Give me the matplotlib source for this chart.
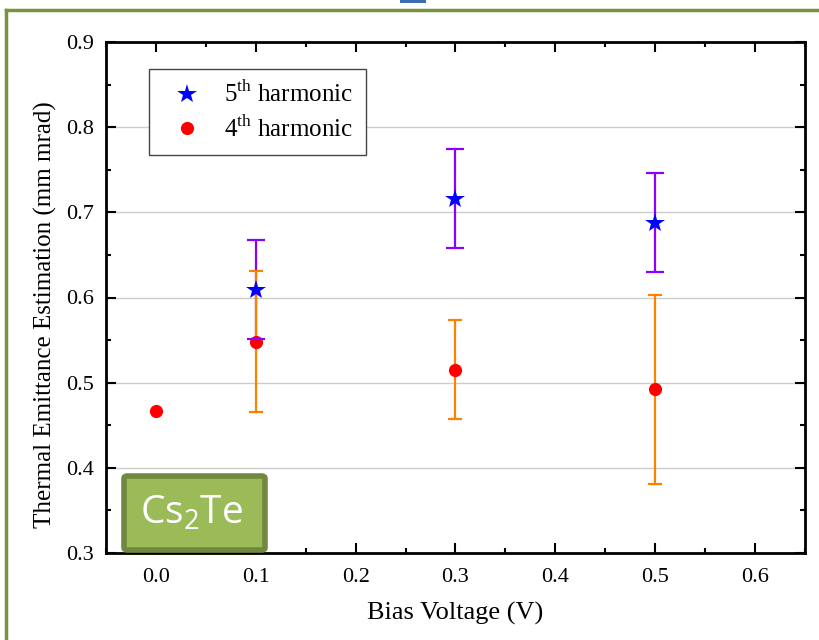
import matplotlib
matplotlib.use("Agg")
import matplotlib.pyplot as plt
from matplotlib.patches import FancyBboxPatch, Rectangle
from matplotlib.lines import Line2D
from matplotlib.ticker import MultipleLocator

# Data
bias_5th = [0.1, 0.3, 0.5]
emit_5th = [0.609, 0.716, 0.688]
err_5th = [0.058, 0.058, 0.058]

bias_4th = [0.0, 0.1, 0.3, 0.5]
emit_4th = [0.467, 0.548, 0.515, 0.492]
err_4th = [0.0, 0.083, 0.058, 0.111]

x_ticks = [0.0, 0.1, 0.2, 0.3, 0.4, 0.5, 0.6]
y_ticks = [0.3, 0.4, 0.5, 0.6, 0.7, 0.8, 0.9]

serif = ["Liberation Serif", "DejaVu Serif"]

fig = plt.figure(figsize=(8.19, 6.4), dpi=100)
ax = fig.add_axes([106 / 819, 1 - 553 / 640, 699 / 819, 511 / 640])

# Error bars
eb5 = ax.errorbar(bias_5th, emit_5th, yerr=err_5th, fmt="none", ecolor="#8B00FF",
                  elinewidth=1.6, capsize=6.5, capthick=1.6, zorder=3)
e4x = [b for b, e in zip(bias_4th, err_4th) if e > 0]
e4y = [v for v, e in zip(emit_4th, err_4th) if e > 0]
e4e = [e for e in err_4th if e > 0]
eb4 = ax.errorbar(e4x, e4y, yerr=e4e, fmt="none", ecolor="#FF8000",
                  elinewidth=1.6, capsize=5, capthick=1.6, zorder=4)
for cap in eb5[1]:
    cap.set_zorder(6)

ax.plot(bias_4th, emit_4th, "o", color="#FF0000", markersize=9.5, zorder=5,
        markeredgewidth=0)
ax.plot(bias_5th, emit_5th, "*", color="#0000FF", markersize=15, zorder=7,
        markeredgewidth=0)

ax.set_xlim(-0.05, 0.65)
ax.set_ylim(0.3, 0.9)
ax.set_xticks(x_ticks)
ax.set_yticks(y_ticks)
ax.set_xticklabels([f"{t:.1f}" for t in x_ticks], fontfamily=serif, fontsize=16)
ax.set_yticklabels([f"{t:.1f}" for t in y_ticks], fontfamily=serif, fontsize=16)
ax.xaxis.set_minor_locator(MultipleLocator(0.05))
ax.yaxis.set_minor_locator(MultipleLocator(0.05))
ax.tick_params(which="both", direction="in", top=True, right=True, width=1.5,
               color="black")
ax.tick_params(which="major", length=7.2)
ax.tick_params(axis="x", which="major", pad=11)
ax.tick_params(axis="y", which="major", pad=9)
ax.tick_params(which="minor", length=3.6)
for s in ax.spines.values():
    s.set_linewidth(2)

ax.grid(axis="y", which="major", color="#CCCCCC", linewidth=1, zorder=0)
ax.set_axisbelow(True)

ax.set_xlabel("Bias Voltage (V)", fontfamily=serif, fontsize=19)
ax.xaxis.set_label_coords(0.5, -(613 - 553) / 511)
ax.xaxis.label.set_va("center")
ax.set_ylabel("Thermal Emittance Estimation (mm mrad)", fontfamily=serif,
              fontsize=18)
ax.yaxis.set_label_coords(-(106 - 45) / 699, (553 - 315) / 511)
ax.yaxis.label.set_va("center")

# Legend
handles = [
    Line2D([], [], marker="*", color="#0000FF", linestyle="none", markersize=15,
           markeredgewidth=0),
    Line2D([], [], marker="o", color="#FF0000", linestyle="none", markersize=9.5,
           markeredgewidth=0),
]
leg = ax.legend(handles, [r"5$^{\mathregular{th}}$ harmonic", r"4$^{\mathregular{th}}$ harmonic"],
                loc="upper left", bbox_to_anchor=((149 - 106) / 699, 1 - (69 - 42) / 511),
                borderaxespad=0, prop={"family": serif, "size": 18}, fancybox=False,
                edgecolor="#444444", framealpha=1, handletextpad=0.5,
                borderpad=0.5, labelspacing=0.35, handlelength=2.0)
leg.get_frame().set_linewidth(1.0)

# Material tag
tag = FancyBboxPatch((124 / 819, 1 - 550 / 640), 141 / 819, 74 / 640,
                     boxstyle="round,pad=0,rounding_size=0.004",
                     transform=fig.transFigure, facecolor="#9BBB59",
                     edgecolor="#71893F", linewidth=4, zorder=10)
fig.patches.append(tag)
fig.text(192 / 819, 1 - 514 / 640, r"Cs$_{\mathregular{2}}$Te", color="white",
         fontfamily=["Open Sans", "DejaVu Sans"], fontsize=28, ha="center",
         va="center", zorder=11)

# Slide frame
fig.add_artist(Line2D([6 / 819, 1], [1 - 10 / 640, 1 - 10 / 640],
                      transform=fig.transFigure, color="#77933C", linewidth=2.5))
fig.add_artist(Line2D([6 / 819, 6 / 819], [0, 1 - 10 / 640],
                      transform=fig.transFigure, color="#77933C", linewidth=2.5))
fig.patches.append(Rectangle((400 / 819, 1 - 3 / 640), 26 / 819, 3 / 640,
                             transform=fig.transFigure, facecolor="#3D6DB0",
                             edgecolor="none"))

fig.savefig("out.png", dpi=100)
